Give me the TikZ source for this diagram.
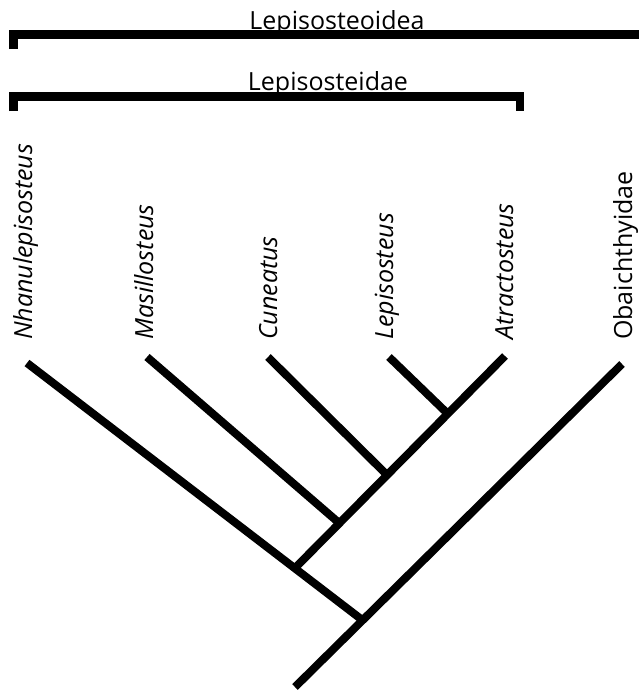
\documentclass[tikz,border=0pt]{standalone}
\usepackage{fontspec}
\setmainfont{Open Sans}
\begin{document}
\begin{tikzpicture}[x=1pt,y=-1pt,
  branch/.style={line width=8pt,line cap=butt},
  bracket/.style={line width=8.5pt,line cap=butt,line join=miter},
  taxon/.style={rotate=90,anchor=base west,inner sep=0pt,font=\fontsize{25}{30}\selectfont\itshape},
  taxonup/.style={rotate=90,anchor=base west,inner sep=0pt,font=\fontsize{25}{30}\selectfont},
  clade/.style={anchor=base,inner sep=0pt,font=\fontsize{25}{30}\selectfont}]
\useasboundingbox (0,0) rectangle (639,691);
\fill[white] (0,0) rectangle (639,691);
% brackets
\draw[bracket] (13.5,49) -- (13.5,34.5) -- (650,34.5);
\draw[bracket] (13.5,111) -- (13.5,96.5) -- (520,96.5) -- (520,111);
\node[clade] (sup) at (337,29) {Lepisosteoidea};
\node[clade] (fam) at (328,90) {Lepisosteidae};
% labels
\node[taxon] (nh) at (32,340) {Nhanulepisosteus};
\node[taxon] (ma) at (153,340) {Masillosteus};
\node[taxon] (cu) at (277,340) {Cuneatus};
\node[taxon] (le) at (393,340) {Lepisosteus};
\node[taxon] (at) at (513,340) {Atractosteus};
\node[taxonup] (ob) at (632,340) {Obaichthyidae};
% tree coordinates
\coordinate (root) at (295,687);
\coordinate (j0) at (361,619);
\coordinate (j1) at (297,566);
\coordinate (j2) at (338,522);
\coordinate (j3) at (386,474);
\coordinate (j4) at (447,413);
\coordinate (tnh) at (27,363);
\coordinate (tma) at (147,357);
\coordinate (tcu) at (268,357);
\coordinate (tle) at (389,357);
\coordinate (tat) at (505,356);
\coordinate (tob) at (622,364);
% branches
\draw[branch] (root) -- (tob);
\draw[branch] (j0) -- (tnh);
\draw[branch] (j1) -- (tat);
\draw[branch] (j2) -- (tma);
\draw[branch] (j3) -- (tcu);
\draw[branch] (j4) -- (tle);
\end{tikzpicture}
\end{document}
